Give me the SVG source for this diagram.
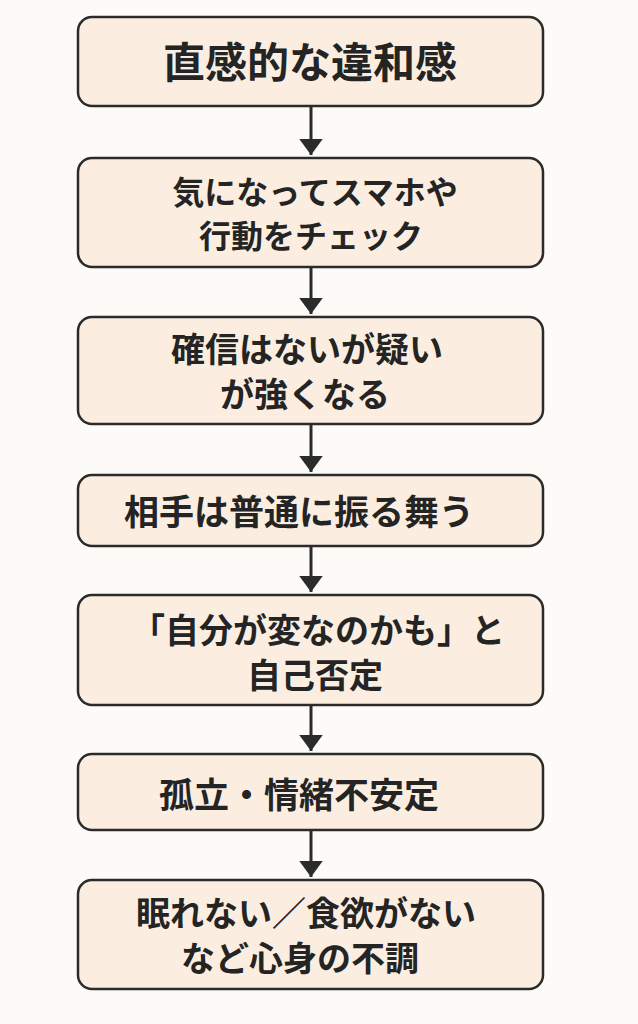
<svg xmlns="http://www.w3.org/2000/svg" width="638" height="1024" viewBox="0 0 638 1024">
<defs>
<style>
.box{fill:#fbeee0;stroke:#2b2b2b;stroke-width:2.5}
.t{font-family:"Noto Sans CJK JP","Noto Sans CJK SC",sans-serif;font-weight:700;fill:#242424;text-anchor:middle}
.ln{stroke:#2b2b2b;stroke-width:3;fill:none}
.hd{fill:#2b2b2b}
</style>
<marker id="ah" markerUnits="userSpaceOnUse" markerWidth="24" markerHeight="16" refX="11" refY="15" orient="0" viewBox="0 0 22 15">
<polygon class="hd" points="0,0 22,0 11,15"/>
</marker>
</defs>
<rect width="638" height="1024" fill="#fdfbf7"/>
<g id="connectors">
<line class="ln" x1="311" y1="106" x2="311" y2="155" marker-end="url(#ah)"/>
<line class="ln" x1="311" y1="267" x2="311" y2="314" marker-end="url(#ah)"/>
<line class="ln" x1="311" y1="424" x2="311" y2="472" marker-end="url(#ah)"/>
<line class="ln" x1="311" y1="546" x2="311" y2="592" marker-end="url(#ah)"/>
<line class="ln" x1="311" y1="705" x2="311" y2="751" marker-end="url(#ah)"/>
<line class="ln" x1="311" y1="830" x2="311" y2="877" marker-end="url(#ah)"/>
</g>
<g id="n1">
<rect class="box" x="78" y="17" width="465" height="89" rx="14"/>
<text class="t" x="310" y="78" font-size="42">直感的な違和感</text>
</g>
<g id="n2">
<rect class="box" x="78" y="158" width="465" height="109" rx="14"/>
<text class="t" x="315" y="204" font-size="32">気になってスマホや</text>
<text class="t" x="311" y="248" font-size="32">行動をチェック</text>
</g>
<g id="n3">
<rect class="box" x="78" y="317" width="465" height="107" rx="14"/>
<text class="t" x="307" y="362" font-size="34">確信はないが疑い</text>
<text class="t" x="305" y="407" font-size="34">が強くなる</text>
</g>
<g id="n4">
<rect class="box" x="78" y="475" width="465" height="71" rx="14"/>
<text class="t" x="299" y="525" font-size="35">相手は普通に振る舞う</text>
</g>
<g id="n5">
<rect class="box" x="78" y="595" width="465" height="110" rx="14"/>
<text class="t" x="318" y="643" font-size="34">「自分が変なのかも」と</text>
<text class="t" x="315" y="688" font-size="34">自己否定</text>
</g>
<g id="n6">
<rect class="box" x="78" y="754" width="465" height="76" rx="14"/>
<text class="t" x="299" y="808" font-size="35">孤立・情緒不安定</text>
</g>
<g id="n7">
<rect class="box" x="78" y="880" width="465" height="109" rx="14"/>
<text class="t" x="306" y="926" font-size="34">眠れない／食欲がない</text>
<text class="t" x="300" y="971" font-size="34">など心身の不調</text>
</g>
</svg>
